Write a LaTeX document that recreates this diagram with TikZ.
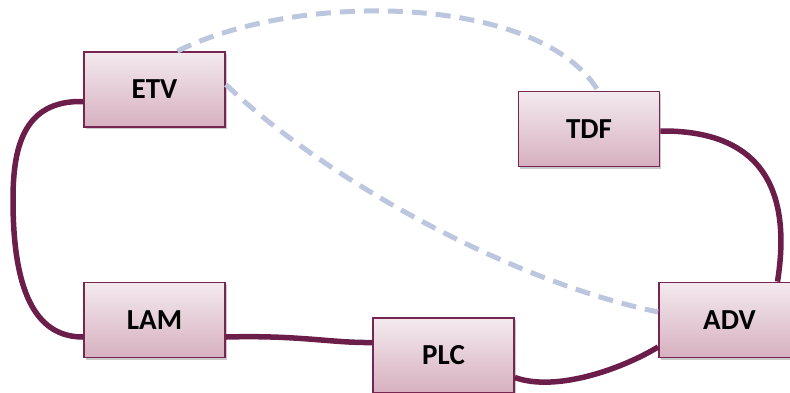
\documentclass[tikz,border=0pt]{standalone}
\usepackage{fontspec}
\setmainfont{Carlito}
\usetikzlibrary{shadows}
\definecolor{boxtop}{RGB}{243,234,238}
\definecolor{boxbot}{RGB}{215,176,192}
\definecolor{boxline}{RGB}{118,38,80}
\definecolor{linkc}{RGB}{108,30,74}
\definecolor{dashc}{RGB}{188,198,222}
\tikzset{
  box/.style={draw=boxline, line width=1.8pt, minimum width=141pt, minimum height=75pt,
    inner sep=0pt, top color=boxtop, bottom color=boxbot,
    drop shadow={shadow xshift=1.5pt, shadow yshift=-2pt, fill=black!35, opacity=0.6},
    font=\bfseries\fontsize{29}{34}\selectfont},
  link/.style={draw=linkc, line width=5.5pt},
  dlink/.style={draw=dashc, line width=5pt, dash pattern=on 15pt off 9pt},
}
\begin{document}
\begin{tikzpicture}[x=1pt,y=-1pt]
\useasboundingbox (0,0) rectangle (790,392);
\coordinate (m1) at (13,200);
\node[box] (etv) at (154.5,89.5) {ETV};
\node[box] (tdf) at (589,129) {TDF};
\node[box] (lam) at (154.5,320) {LAM};
\node[box] (plc) at (443.5,355.5) {PLC};
\node[box] (adv) at (729.5,320) {ADV};
% thick links
\draw[link] ([yshift=-12pt]etv.west) .. controls (22,100) and (13,150) .. (m1)
   .. controls (13,300) and (40,337) .. ([yshift=-17pt]lam.west);
\draw[link] ([yshift=-17pt]lam.east) .. controls (300,335) and (330,343) .. ([yshift=13pt]plc.west);
\draw[link] ([yshift=-22pt]plc.east) .. controls (555,392) and (620,370) .. ([yshift=-27pt]adv.west);
\draw[link] ([yshift=-2pt]tdf.east) .. controls (762,130) and (792,190) .. ([xshift=48pt]adv.north);
% dashed links
\draw[dlink] ([xshift=23pt]etv.north) .. controls (300,-10) and (540,-5) .. ([xshift=9pt]tdf.north);
\draw[dlink] ([yshift=5pt]etv.east) .. controls (320,175) and (505,280) .. ([yshift=8pt]adv.west);
\end{tikzpicture}
\end{document}
